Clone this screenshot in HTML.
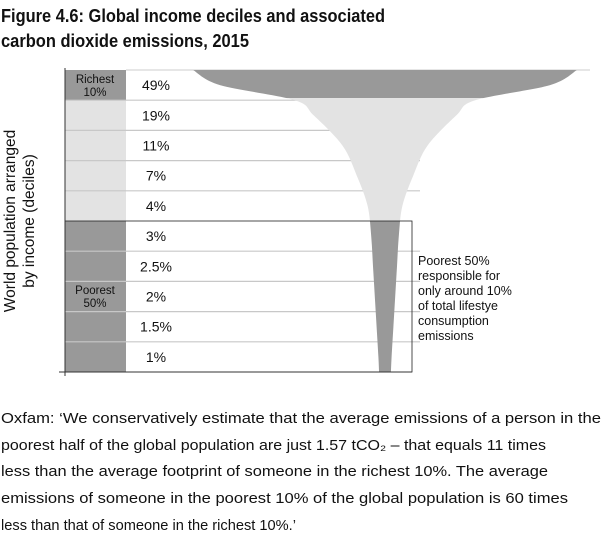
<!DOCTYPE html>
<html><head><meta charset="utf-8"><style>
html,body{margin:0;padding:0;background:#fff;}
svg{display:block;font-family:"Liberation Sans",sans-serif;}
</style></head><body>
<svg id="chart" width="604" height="535" viewBox="0 0 604 535" xmlns="http://www.w3.org/2000/svg">
<g font-weight="bold" font-size="18" fill="#111">
<text x="1" y="22" textLength="384" lengthAdjust="spacingAndGlyphs">Figure 4.6: Global income deciles and associated</text>
<text x="1" y="47" textLength="248" lengthAdjust="spacingAndGlyphs">carbon dioxide emissions, 2015</text>
</g>
<g id="plot"></g>
<g font-size="14.5" fill="#111">
<text x="1" y="423" textLength="600" lengthAdjust="spacingAndGlyphs">Oxfam: ‘We conservatively estimate that the average emissions of a person in the</text>
<text x="1" y="450" textLength="545" lengthAdjust="spacingAndGlyphs">poorest half of the global population are just 1.57 tCO₂ – that equals 11 times</text>
<text x="1" y="476" textLength="547" lengthAdjust="spacingAndGlyphs">less than the average footprint of someone in the richest 10%. The average</text>
<text x="1" y="503" textLength="567" lengthAdjust="spacingAndGlyphs">emissions of someone in the poorest 10% of the global population is 60 times</text>
<text x="1" y="530" textLength="295" lengthAdjust="spacingAndGlyphs">less than that of someone in the richest 10%.’</text>
</g>
</svg>
<script>
const labels = ["49%","19%","11%","7%","4%","3%","2.5%","2%","1.5%","1%"];
const values = [49,19,11,7,4,3,2.5,2,1.5,1];

const NS="http://www.w3.org/2000/svg";
const g=document.getElementById('plot');
const topY=70, rowH=30.2, axisX=65, colW=61, cx=385;
const yRow=i=>topY+i*rowH;
const hw=v=>3+3.6*v;
function mk(tag,attrs,parent){const e=document.createElementNS(NS,tag);for(const a in attrs)e.setAttribute(a,attrs[a]);(parent||g).appendChild(e);return e;}

let e;
e=mk('rect',{x:axisX,y:yRow(0),width:colW,height:rowH,fill:'#999'});


e=mk('rect',{x:axisX,y:yRow(1),width:colW,height:rowH*4,fill:'#e3e3e3'});


e=mk('rect',{x:axisX,y:yRow(5),width:colW,height:rowH*5,fill:'#999'});



for(let i=1;i<10;i++){
  if(i===5) continue;
  e=mk('line',{x1:axisX,x2:420,y1:yRow(i),y2:yRow(i),stroke:'#c8c8c8','stroke-width':1.2});
  
  
}
e=mk('line',{x1:126,x2:590,y1:yRow(0),y2:yRow(0),stroke:'#ccc','stroke-width':1});



// funnel control points derived from values
const pts=[[yRow(0),hw(values[0])*1.07],[yRow(0)+rowH*0.5,hw(values[0])*0.92],[yRow(1),(hw(values[0])+hw(values[1]))/2*0.72]];
for(let i=1;i<values.length;i++) pts.push([yRow(i)+rowH/2, hw(values[i])]);
pts.push([yRow(10),hw(values[9])*0.9]);
function seg(P,i,dir){
  const n=P.length;
  const cl=j=>P[Math.max(0,Math.min(n-1,j))];
  const p0=cl(i-dir),p1=P[i],p2=cl(i+dir),p3=cl(i+2*dir);
  const c1=[p1[0]+(p2[0]-p0[0])/6,p1[1]+(p2[1]-p0[1])/6];
  const c2=[p2[0]-(p3[0]-p1[0])/6,p2[1]-(p3[1]-p1[1])/6];
  return ' C'+c1[0]+','+c1[1]+' '+c2[0]+','+c2[1]+' '+p2[0]+','+p2[1];
}
const PL=pts.map(p=>[cx-p[1],p[0]]);
const PR=pts.map(p=>[cx+p[1],p[0]]);
let fullD='M'+PL[0][0]+','+PL[0][1];
for(let i=0;i<PL.length-1;i++) fullD+=seg(PL,i,1);
fullD+=' L'+PR[PR.length-1][0]+','+PR[PR.length-1][1];
for(let i=PR.length-1;i>0;i--) fullD+=seg(PR,i,-1);
fullD+=' Z';

const defs=mk('defs',{});
[['c1',yRow(0)-2,rowH*0.93+2],['c2',yRow(0)+rowH*0.93,rowH*4.07],['c3',yRow(5),rowH*5+2]].forEach(([id,y,h])=>{
  const cp=mk('clipPath',{id},defs);mk('rect',{x:0,y,width:604,height:h},cp);
});
e=mk('path',{d:fullD,fill:'#999','clip-path':'url(#c1)'});


e=mk('path',{d:fullD,fill:'#e3e3e3','clip-path':'url(#c2)'});


e=mk('path',{d:fullD,fill:'#999','clip-path':'url(#c3)'});



e=mk('rect',{x:axisX,y:yRow(5),width:347,height:rowH*5,fill:'none',stroke:'#222','stroke-width':0.8});



e=mk('line',{x1:axisX,x2:axisX,y1:topY-2,y2:yRow(10)+4,stroke:'#333','stroke-width':1});


e=mk('line',{x1:axisX-6,x2:axisX+347,y1:yRow(10),y2:yRow(10),stroke:'#333','stroke-width':1});



labels.forEach((t,i)=>{
  const tx=mk('text',{x:156,y:yRow(i)+rowH/2+5,'text-anchor':'middle','font-size':14,fill:'#111'});
  tx.textContent=t;
  
  
});

function txt(s,x,y,size,name,anchor){const t=mk('text',{x,y,'font-size':size,fill:'#111','text-anchor':anchor||'middle'});t.textContent=s;


return t;}
txt('Richest',95,83,11.5,'richest-label');
txt('10%',95,96,11.5,'richest-label-pct');
txt('Poorest',95,294,11.5,'poorest-label');
txt('50%',95,307,11.5,'poorest-label-pct');
['Poorest 50%','responsible for','only around 10%','of total lifestye','consumption','emissions'].forEach((s,i)=>txt(s,418,265+i*15,12.5,'poorest-annotation','start'));

const yt=mk('text',{transform:'translate(15,221) rotate(-90)','text-anchor':'middle','font-size':15.5,fill:'#111'});


const t1=mk('tspan',{x:0,y:0},yt);t1.textContent='World population arranged';
const t2=mk('tspan',{x:0,y:19},yt);t2.textContent='by income (deciles)';
</script>
</body></html>
